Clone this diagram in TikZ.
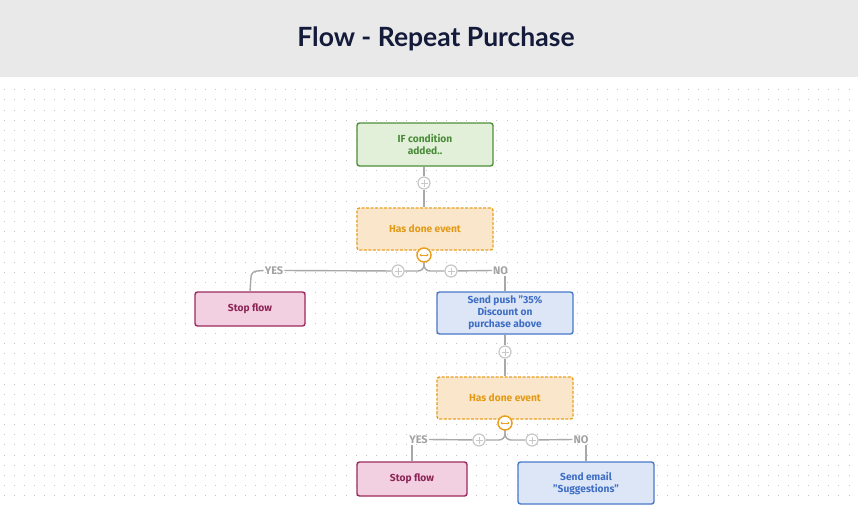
\documentclass[tikz,border=0pt]{standalone}
\usepackage{fontspec}
\setmainfont{Fira Sans}
\newfontfamily\titlefont{Lato}
\usepackage{tikz}
\usetikzlibrary{arrows.meta}
\definecolor{hdr}{HTML}{E9E9E9}
\definecolor{ttl}{HTML}{141B3A}
\definecolor{dotc}{HTML}{C4C4C4}
\definecolor{conn}{HTML}{A8A8A8}
\definecolor{lbl}{HTML}{A3A3A3}
\definecolor{gfill}{HTML}{E2F0D9}
\definecolor{gdraw}{HTML}{4E8F3A}
\definecolor{gtext}{HTML}{4A8B3A}
\definecolor{ofill}{HTML}{FAE7CB}
\definecolor{odraw}{HTML}{E8A020}
\definecolor{otext}{HTML}{E39A17}
\definecolor{pfill}{HTML}{F2D0E1}
\definecolor{pdraw}{HTML}{9C2A5E}
\definecolor{ptext}{HTML}{8C2456}
\definecolor{bfill}{HTML}{DCE6F7}
\definecolor{bdraw}{HTML}{4A78C9}
\definecolor{btext}{HTML}{3F6EC4}
\definecolor{plusc}{HTML}{C8C8C8}
\tikzset{
  box/.style={rounded corners=2.5pt, line width=1.4pt, minimum width=136pt, align=center,
    font=\bfseries\fontsize{10.2}{12}\selectfont, inner sep=0pt},
  gbox/.style={box, fill=gfill, draw=gdraw, text=gtext, minimum height=43pt},
  obox/.style={box, fill=ofill, draw=odraw, text=otext, minimum height=42pt, dash pattern=on 3pt off 1.5pt},
  pbox/.style={box, fill=pfill, draw=pdraw, text=ptext, minimum height=34pt, minimum width=110pt},
  bbox/.style={box, fill=bfill, draw=bdraw, text=btext, minimum height=42pt},
  conn/.style={draw=conn, line width=1.4pt},
  plus/.style={circle, draw=plusc, fill=white, line width=1.2pt, minimum size=12pt, inner sep=0pt},
  plusmark/.style={draw=plusc, line width=1pt},
  swap/.style={circle, draw=odraw, fill=white, line width=1.5pt, minimum size=14pt, inner sep=0pt},
  swaparrow/.style={draw=odraw, line width=0.8pt, {Stealth[length=2pt,width=3pt]}-{Stealth[length=2pt,width=3pt]}},
  yn/.style={text=lbl, font=\bfseries\fontsize{11}{13}\selectfont, inner sep=1pt},
}
\begin{document}
\begin{tikzpicture}[x=1pt,y=-1pt]
\useasboundingbox (0,0) rectangle (858,522);
\fill[white] (0,0) rectangle (858,522);
\fill[hdr] (0,0) rectangle (858,77);
\node[text=ttl, font=\titlefont\bfseries\fontsize{26.5}{30}\selectfont] (title) at (436,39) {Flow - Repeat Purchase};
% dot grid
\foreach \i in {0,...,84}{
  \foreach \j in {0,...,40}{
    \fill[dotc] ({4+\i*10.06-0.5},{89.7+\j*10.15-0.5}) rectangle ++(1,1);
  }
}
% nodes
\node[gbox] (if) at (425,144.5) {IF condition\\added..};
\node[obox] (h1) at (425,229) {Has done event};
\node[pbox] (s1) at (250,309) {Stop flow};
\node[bbox] (push) at (505,313) {Send push "35\%\\Discount on\\purchase above};
\node[obox] (h2) at (505,398) {Has done event};
\node[pbox] (s2) at (412,479) {Stop flow};
\node[bbox] (mail) at (586,483) {Send email\\"Suggestions"};
% connectors top
\node[plus] (p0) at (424,183) {};
\draw[conn] (if.south -| p0) -- (p0);
\draw[conn] (p0) -- (h1.north -| p0);
\node[plus] (p1) at (398,271) {};
\node[plus] (p2) at (451,271) {};
\node[yn] (yes1) at (274,270.5) {YES};
\node[yn] (no1) at (500.5,270.5) {NO};
\coordinate (b1) at (424,262);
\draw[conn] (b1) -- (424,265) arc[start angle=0,end angle=-90,radius=6pt] -- (p1);
\draw[conn] (b1) -- (424,265) arc[start angle=180,end angle=270,radius=6pt] -- (p2);
\draw[conn] (p1) -- (yes1.east);
\draw[conn] (p2) -- (no1.west);
\draw[conn] (yes1.west) -- (257,271) arc[start angle=90,end angle=180,radius=6pt] -- (s1.north);
\draw[conn] (no1.south -| push.north) -- (push.north);
\node[swap] (sw1) at (424,255) {};
\draw[swaparrow] ([xshift=-4.5pt]sw1.center) -- ([xshift=4.5pt]sw1.center);
% middle
\node[plus] (p3) at (505,352) {};
\draw[conn] (push.south) -- (p3);
\draw[conn] (p3) -- (h2.north);
% bottom branch
\node[plus] (p4) at (479,440) {};
\node[plus] (p5) at (532,440) {};
\node[yn] (yes2) at (418.5,439.5) {YES};
\node[yn] (no2) at (581,439.5) {NO};
\coordinate (b2) at (505,430);
\draw[conn] (b2) -- (505,434) arc[start angle=0,end angle=-90,radius=6pt] -- (p4);
\draw[conn] (b2) -- (505,434) arc[start angle=180,end angle=270,radius=6pt] -- (p5);
\draw[conn] (p4) -- (yes2.east);
\draw[conn] (p5) -- (no2.west);
\draw[conn] (yes2.south -| s2.north) -- (s2.north);
\draw[conn] (no2.south -| mail.north) -- (mail.north);
\node[swap] (sw2) at (505,423) {};
\draw[swaparrow] ([xshift=-4.5pt]sw2.center) -- ([xshift=4.5pt]sw2.center);
% plus marks
\foreach \p in {p0,p1,p2,p3,p4,p5}{
  \draw[plusmark] ([xshift=-3.5pt]\p.center) -- ([xshift=3.5pt]\p.center);
  \draw[plusmark] ([yshift=-3.5pt]\p.center) -- ([yshift=3.5pt]\p.center);
}
\end{tikzpicture}
\end{document}
